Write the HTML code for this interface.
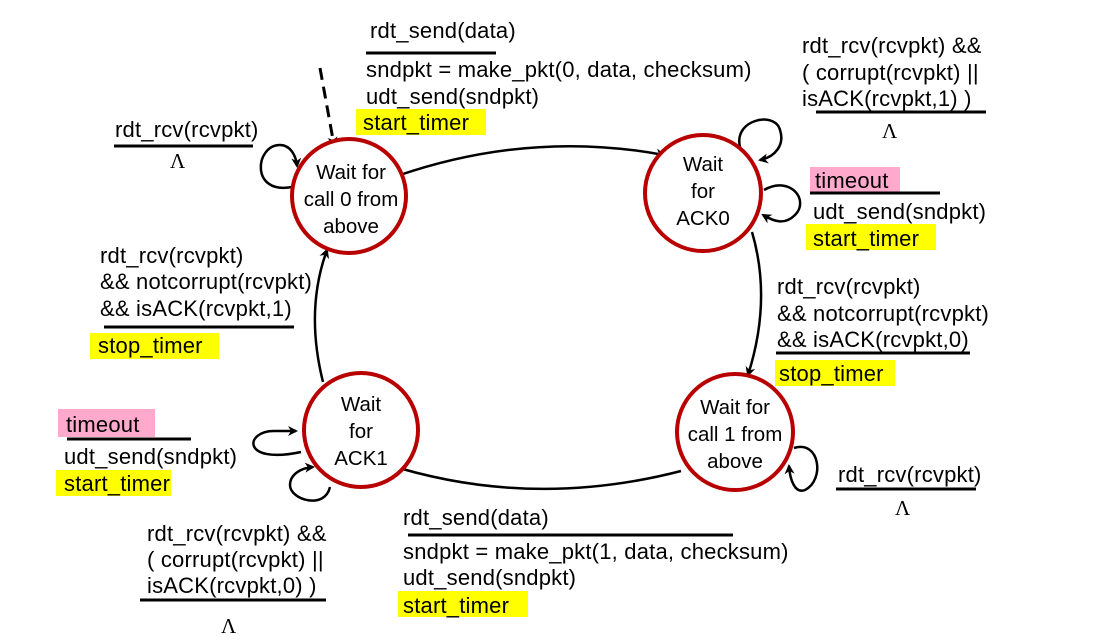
<!DOCTYPE html>
<html><head><meta charset="utf-8"><style>
html,body{margin:0;padding:0;background:#fff;}
svg{display:block;}
text{font-family:"Liberation Sans",Arial,sans-serif;font-size:22px;fill:#000;letter-spacing:0.2px;}
.c{text-anchor:middle;font-size:20.5px;letter-spacing:0;}
.l{font-family:"Liberation Serif",serif;font-size:21px;}
</style></head><body>
<svg width="1108" height="643" viewBox="0 0 1108 643" xmlns="http://www.w3.org/2000/svg">
<defs>
<marker id="a" markerWidth="10" markerHeight="10" refX="8" refY="5" orient="auto" markerUnits="userSpaceOnUse">
<path d="M0,0 L10,5 L0,10 L3,5 z" fill="#000"/></marker>
</defs>
<g fill="none" stroke="#000" stroke-width="2.5">
<path d="M397,176 Q530,130 664,155" marker-end="url(#a)"/>
<path d="M752,232 Q772,300 748,375" marker-end="url(#a)"/>
<path d="M681,471 Q530,510 386,464" marker-end="url(#a)"/>
<path d="M323,382 Q305,310 327,250" marker-end="url(#a)"/>
<path d="M320,68 L334,145" stroke-dasharray="12,7" stroke-width="3" marker-end="url(#a)"/>
<path d="M292,187 C250,195 255,145 280,145 C290,145 296,155 297,166" marker-end="url(#a)"/>
<path d="M741,150 C730,120 775,110 780,130 C785,145 775,157 760,160" marker-end="url(#a)"/>
<path d="M764,190 C790,175 810,200 795,215 C785,225 775,222 763,215" marker-end="url(#a)"/>
<path d="M301,452 C240,465 245,430 275,431 C282,431 288,431 296,431" marker-end="url(#a)"/>
<path d="M330,487 C325,510 290,500 290,485 C290,475 300,468 313,467" marker-end="url(#a)"/>
<path d="M794,448 C820,440 825,480 805,490 C795,494 790,480 789,466" marker-end="url(#a)"/>
</g>
<g fill="#fff" stroke="#b80000" stroke-width="4">
<circle cx="349" cy="196" r="57"/>
<circle cx="703" cy="193" r="58"/>
<circle cx="361" cy="430" r="57"/>
<circle cx="735" cy="432" r="58"/>
</g>
<text class="c" x="351" y="179">Wait for</text>
<text class="c" x="351" y="206">call 0 from</text>
<text class="c" x="351" y="233">above</text>
<text class="c" x="703" y="171">Wait</text>
<text class="c" x="703" y="198">for</text>
<text class="c" x="703" y="225">ACK0</text>
<text class="c" x="361" y="411">Wait</text>
<text class="c" x="361" y="438">for</text>
<text class="c" x="361" y="465">ACK1</text>
<text class="c" x="735" y="414">Wait for</text>
<text class="c" x="735" y="441">call 1 from</text>
<text class="c" x="735" y="468">above</text>
<g fill="#ffff00">
<rect x="356" y="109" width="130" height="26"/>
<rect x="806" y="224" width="130" height="26"/>
<rect x="775" y="360" width="120" height="26"/>
<rect x="398" y="591" width="130" height="26"/>
<rect x="56" y="470" width="115" height="26"/>
<rect x="90" y="333" width="129" height="26"/>
</g>
<g fill="#ffaacc">
<rect x="810" y="167" width="90" height="25"/>
<rect x="58" y="409" width="97" height="28"/>
</g>
<g stroke="#000" stroke-width="3">
<line x1="366" y1="53" x2="496" y2="53"/>
<line x1="816" y1="112" x2="986" y2="112"/>
<line x1="810" y1="193" x2="940" y2="193"/>
<line x1="776" y1="353" x2="970" y2="353"/>
<line x1="836" y1="489" x2="976" y2="489"/>
<line x1="408" y1="535" x2="733" y2="535"/>
<line x1="140" y1="600" x2="326" y2="600"/>
<line x1="67" y1="439" x2="191" y2="439"/>
<line x1="104" y1="327" x2="294" y2="327"/>
<line x1="114" y1="146" x2="253" y2="146"/>
</g>
<text x="370" y="38">rdt_send(data)</text>
<text x="366" y="77">sndpkt = make_pkt(0, data, checksum)</text>
<text x="366" y="104">udt_send(sndpkt)</text>
<text x="363" y="130">start_timer</text>

<text x="802" y="53">rdt_rcv(rcvpkt) &amp;&amp;</text>
<text x="802" y="80">( corrupt(rcvpkt) ||</text>
<text x="802" y="106">isACK(rcvpkt,1) )</text>
<text class="l" x="882" y="138">Λ</text>

<text x="815" y="188">timeout</text>
<text x="813" y="219">udt_send(sndpkt)</text>
<text x="813" y="246">start_timer</text>

<text x="777" y="294">rdt_rcv(rcvpkt)</text>
<text x="777" y="321">&amp;&amp; notcorrupt(rcvpkt)</text>
<text x="777" y="347">&amp;&amp; isACK(rcvpkt,0)</text>
<text x="779" y="381">stop_timer</text>

<text x="838" y="482">rdt_rcv(rcvpkt)</text>
<text class="l" x="895" y="515">Λ</text>

<text x="403" y="525">rdt_send(data)</text>
<text x="403" y="559">sndpkt = make_pkt(1, data, checksum)</text>
<text x="403" y="585">udt_send(sndpkt)</text>
<text x="403" y="613">start_timer</text>

<text x="147" y="541">rdt_rcv(rcvpkt) &amp;&amp;</text>
<text x="147" y="567">( corrupt(rcvpkt) ||</text>
<text x="147" y="593">isACK(rcvpkt,0) )</text>
<text class="l" x="221" y="633">Λ</text>

<text x="66" y="432">timeout</text>
<text x="64" y="464">udt_send(sndpkt)</text>
<text x="64" y="491">start_timer</text>

<text x="100" y="263">rdt_rcv(rcvpkt)</text>
<text x="100" y="289">&amp;&amp; notcorrupt(rcvpkt)</text>
<text x="100" y="316">&amp;&amp; isACK(rcvpkt,1)</text>
<text x="98" y="353">stop_timer</text>

<text x="115" y="137">rdt_rcv(rcvpkt)</text>
<text class="l" x="170" y="168">Λ</text>
</svg>
</body></html>
